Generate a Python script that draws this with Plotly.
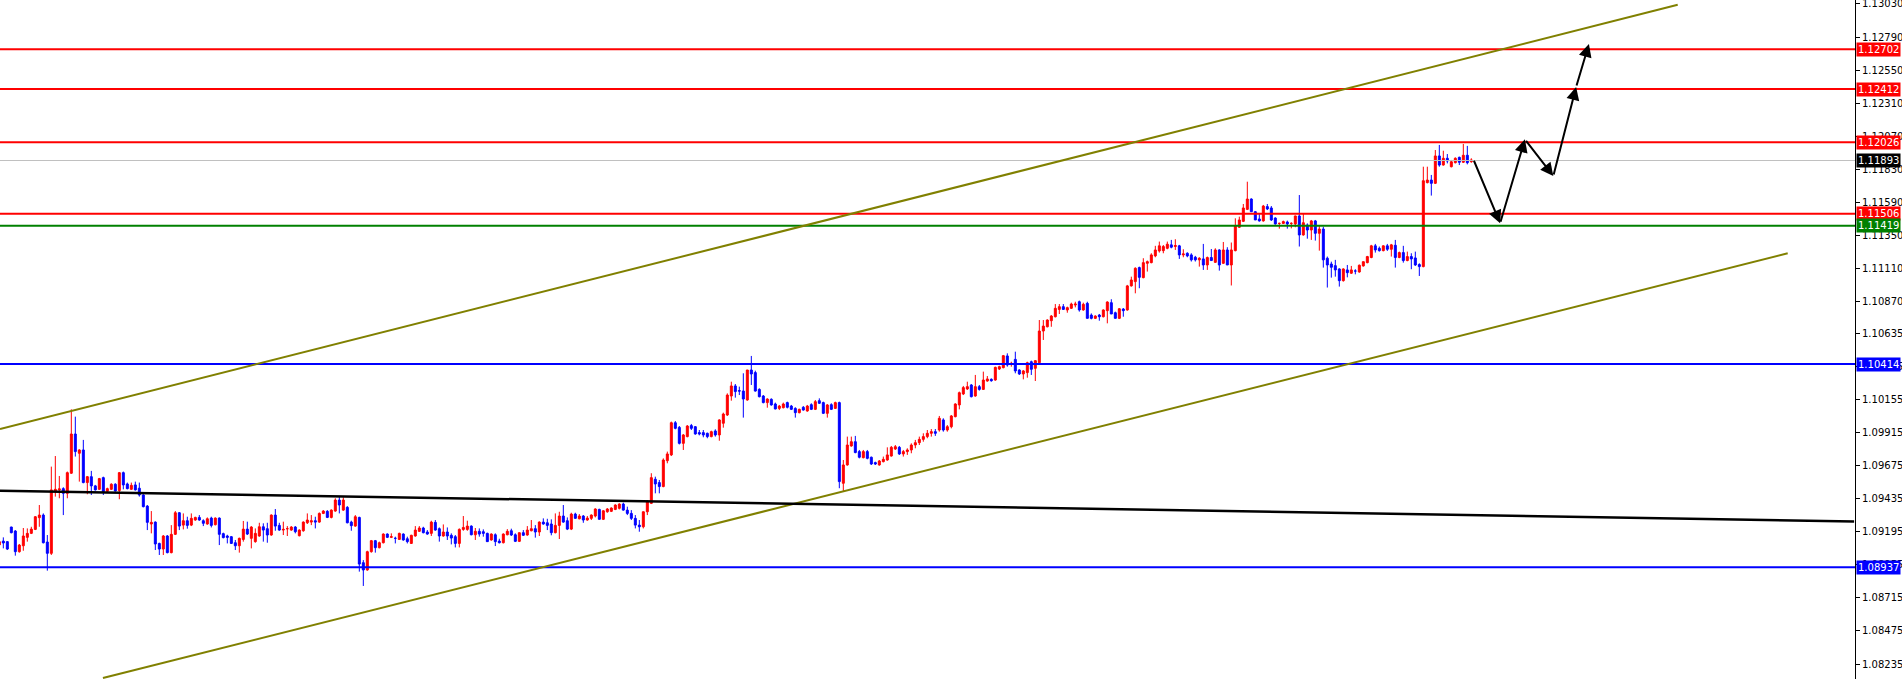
import plotly.graph_objects as go

# ---------------- candle data ----------------
opens = [
 1.09100, 1.09128, 1.09124, 1.09230, 1.09201, 1.09051, 1.09094, 1.09155, 1.09184, 1.09213,
 1.09298, 1.09317, 1.09121, 1.09039, 1.09490, 1.09500, 1.09509, 1.09475, 1.09621, 1.09906,
 1.09766, 1.09790, 1.09553, 1.09596, 1.09529, 1.09504, 1.09589, 1.09490, 1.09504, 1.09541,
 1.09495, 1.09625, 1.09543, 1.09504, 1.09536, 1.09512, 1.09463, 1.09382, 1.09252, 1.09266,
 1.09111, 1.09070, 1.09165, 1.09044, 1.09177, 1.09334, 1.09244, 1.09276, 1.09244, 1.09281,
 1.09300, 1.09276, 1.09252, 1.09295, 1.09247, 1.09295, 1.09182, 1.09165, 1.09160, 1.09116,
 1.09094, 1.09140, 1.09215, 1.09148, 1.09124, 1.09165, 1.09232, 1.09218, 1.09172, 1.09317,
 1.09242, 1.09208, 1.09218, 1.09208, 1.09230, 1.09167, 1.09203, 1.09261, 1.09266, 1.09276,
 1.09266, 1.09329, 1.09344, 1.09300, 1.09346, 1.09426, 1.09353, 1.09373, 1.09266, 1.09237,
 1.09300, 1.08971, 1.08918, 1.09051, 1.09131, 1.09080, 1.09116, 1.09179, 1.09155, 1.09148,
 1.09140, 1.09179, 1.09145, 1.09111, 1.09165, 1.09199, 1.09223, 1.09194, 1.09184, 1.09264,
 1.09218, 1.09165, 1.09194, 1.09170, 1.09160, 1.09111, 1.09213, 1.09213, 1.09237, 1.09174,
 1.09199, 1.09196, 1.09184, 1.09136, 1.09174, 1.09128, 1.09116, 1.09174, 1.09203, 1.09174,
 1.09126, 1.09189, 1.09172, 1.09203, 1.09218, 1.09194, 1.09266, 1.09261, 1.09252, 1.09189,
 1.09242, 1.09310, 1.09276, 1.09215, 1.09324, 1.09290, 1.09310, 1.09281, 1.09293, 1.09310,
 1.09358, 1.09286, 1.09341, 1.09344, 1.09358, 1.09366, 1.09397, 1.09353, 1.09329, 1.09293,
 1.09244, 1.09232, 1.09341, 1.09402, 1.09577, 1.09553, 1.09524, 1.09712, 1.09754, 1.09988,
 1.09954, 1.09838, 1.09887, 1.09967, 1.09959, 1.09916, 1.09916, 1.09911, 1.09887, 1.09928,
 1.09899, 1.09984, 1.10044, 1.10182, 1.10255, 1.10221, 1.10218, 1.10153, 1.10371, 1.10352,
 1.10230, 1.10182, 1.10134, 1.10158, 1.10124, 1.10092, 1.10097, 1.10134, 1.10109, 1.10092,
 1.10061, 1.10100, 1.10073, 1.10119, 1.10085, 1.10148, 1.10134, 1.10056, 1.10119, 1.10092,
 1.10134, 1.09548, 1.09681, 1.09819, 1.09850, 1.09778, 1.09734, 1.09778, 1.09737, 1.09698,
 1.09681, 1.09705, 1.09717, 1.09746, 1.09797, 1.09809, 1.09761, 1.09778, 1.09790, 1.09826,
 1.09843, 1.09867, 1.09887, 1.09911, 1.09923, 1.09935, 1.10008, 1.09935, 1.09959, 1.10032,
 1.10117, 1.10197, 1.10233, 1.10262, 1.10182, 1.10250, 1.10230, 1.10291, 1.10303, 1.10298,
 1.10378, 1.10388, 1.10473, 1.10414, 1.10448, 1.10371, 1.10342, 1.10352, 1.10431, 1.10383,
 1.10424, 1.10654, 1.10685, 1.10729, 1.10758, 1.10811, 1.10831, 1.10807, 1.10819, 1.10843,
 1.10867, 1.10807, 1.10855, 1.10770, 1.10746, 1.10770, 1.10758, 1.10802, 1.10860, 1.10787,
 1.10746, 1.10814, 1.10807, 1.10982, 1.11013, 1.11115, 1.11042, 1.11146, 1.11151, 1.11200,
 1.11236, 1.11238, 1.11255, 1.11280, 1.11268, 1.11273, 1.11207, 1.11219, 1.11207, 1.11190,
 1.11171, 1.11178, 1.11134, 1.11188, 1.11153, 1.11243, 1.11146, 1.11243, 1.11134, 1.11238,
 1.11408, 1.11451, 1.11538, 1.11613, 1.11521, 1.11468, 1.11454, 1.11558, 1.11548, 1.11475,
 1.11436, 1.11436, 1.11446, 1.11436, 1.11432, 1.11490, 1.11352, 1.11424, 1.11388, 1.11454,
 1.11364, 1.11395, 1.11183, 1.11141, 1.11129, 1.11105, 1.11020, 1.11098, 1.11074, 1.11090,
 1.11083, 1.11127, 1.11151, 1.11188, 1.11273, 1.11255, 1.11238, 1.11273, 1.11248, 1.11277,
 1.11188, 1.11224, 1.11166, 1.11195, 1.11185, 1.11137, 1.11122, 1.11732, 1.11751, 1.11727,
 1.11926, 1.11860, 1.11909, 1.11848, 1.11877, 1.11916, 1.11880, 1.11931, 1.11884,
]
highs = [
 1.09136, 1.09155, 1.09128, 1.09232, 1.09208, 1.09107, 1.09223, 1.09220, 1.09232, 1.09310,
 1.09390, 1.09329, 1.09172, 1.09669, 1.09746, 1.09601, 1.09519, 1.09633, 1.10085, 1.10032,
 1.09795, 1.09863, 1.09601, 1.09638, 1.09536, 1.09587, 1.09596, 1.09516, 1.09548, 1.09548,
 1.09630, 1.09633, 1.09553, 1.09553, 1.09560, 1.09553, 1.09468, 1.09390, 1.09346, 1.09271,
 1.09116, 1.09172, 1.09172, 1.09244, 1.09346, 1.09339, 1.09329, 1.09305, 1.09329, 1.09305,
 1.09317, 1.09286, 1.09300, 1.09305, 1.09300, 1.09300, 1.09189, 1.09174, 1.09165, 1.09136,
 1.09153, 1.09274, 1.09269, 1.09237, 1.09220, 1.09261, 1.09257, 1.09261, 1.09322, 1.09361,
 1.09261, 1.09269, 1.09237, 1.09237, 1.09237, 1.09213, 1.09271, 1.09329, 1.09317, 1.09305,
 1.09336, 1.09353, 1.09353, 1.09358, 1.09439, 1.09451, 1.09446, 1.09382, 1.09276, 1.09317,
 1.09305, 1.08990, 1.09058, 1.09136, 1.09136, 1.09124, 1.09184, 1.09184, 1.09184, 1.09160,
 1.09189, 1.09184, 1.09160, 1.09174, 1.09237, 1.09237, 1.09232, 1.09208, 1.09276, 1.09281,
 1.09227, 1.09249, 1.09227, 1.09184, 1.09172, 1.09220, 1.09310, 1.09276, 1.09242, 1.09223,
 1.09220, 1.09213, 1.09189, 1.09184, 1.09184, 1.09145, 1.09184, 1.09215, 1.09218, 1.09184,
 1.09189, 1.09208, 1.09237, 1.09281, 1.09244, 1.09271, 1.09293, 1.09290, 1.09286, 1.09329,
 1.09341, 1.09390, 1.09300, 1.09334, 1.09334, 1.09324, 1.09317, 1.09310, 1.09322, 1.09366,
 1.09363, 1.09353, 1.09368, 1.09373, 1.09395, 1.09402, 1.09407, 1.09378, 1.09353, 1.09317,
 1.09281, 1.09317, 1.09426, 1.09621, 1.09596, 1.09572, 1.09729, 1.09778, 1.09996, 1.10000,
 1.09964, 1.09906, 1.09971, 1.09979, 1.09964, 1.09935, 1.09935, 1.09916, 1.09930, 1.09940,
 1.10013, 1.10061, 1.10201, 1.10286, 1.10269, 1.10250, 1.10347, 1.10371, 1.10473, 1.10366,
 1.10238, 1.10189, 1.10165, 1.10165, 1.10134, 1.10117, 1.10134, 1.10141, 1.10117, 1.10100,
 1.10090, 1.10109, 1.10117, 1.10129, 1.10153, 1.10165, 1.10141, 1.10124, 1.10129, 1.10141,
 1.10141, 1.09717, 1.09887, 1.09887, 1.09892, 1.09790, 1.09790, 1.09790, 1.09742, 1.09705,
 1.09717, 1.09742, 1.09809, 1.09819, 1.09826, 1.09819, 1.09790, 1.09802, 1.09838, 1.09863,
 1.09887, 1.09911, 1.09935, 1.09942, 1.09942, 1.10037, 1.10020, 1.09971, 1.10044, 1.10129,
 1.10214, 1.10255, 1.10286, 1.10269, 1.10335, 1.10262, 1.10359, 1.10327, 1.10310, 1.10395,
 1.10402, 1.10480, 1.10492, 1.10431, 1.10504, 1.10376, 1.10371, 1.10431, 1.10439, 1.10443,
 1.10734, 1.10734, 1.10739, 1.10770, 1.10850, 1.10850, 1.10850, 1.10831, 1.10860, 1.10867,
 1.10875, 1.10860, 1.10867, 1.10782, 1.10768, 1.10778, 1.10811, 1.10870, 1.10885, 1.10795,
 1.10821, 1.10821, 1.10989, 1.11049, 1.11117, 1.11122, 1.11183, 1.11166, 1.11219, 1.11273,
 1.11304, 1.11279, 1.11304, 1.11316, 1.11321, 1.11280, 1.11248, 1.11226, 1.11219, 1.11200,
 1.11190, 1.11287, 1.11195, 1.11250, 1.11255, 1.11248, 1.11301, 1.11263, 1.11297, 1.11473,
 1.11485, 1.11577, 1.11739, 1.11618, 1.11526, 1.11504, 1.11570, 1.11577, 1.11562, 1.11480,
 1.11441, 1.11456, 1.11456, 1.11444, 1.11492, 1.11642, 1.11509, 1.11436, 1.11461, 1.11461,
 1.11417, 1.11412, 1.11195, 1.11158, 1.11171, 1.11110, 1.11110, 1.11134, 1.11127, 1.11103,
 1.11137, 1.11158, 1.11200, 1.11280, 1.11287, 1.11268, 1.11277, 1.11287, 1.11287, 1.11316,
 1.11231, 1.11273, 1.11231, 1.11219, 1.11231, 1.11146, 1.11848, 1.11848, 1.11788, 1.11969,
 1.12006, 1.11964, 1.11940, 1.11897, 1.11916, 1.11921, 1.12013, 1.11999, 1.11909,
]
lows = [
 1.09087, 1.09075, 1.09063, 1.09184, 1.09022, 1.09044, 1.09058, 1.09124, 1.09179, 1.09208,
 1.09232, 1.09111, 1.08913, 1.09027, 1.09451, 1.09439, 1.09317, 1.09439, 1.09616, 1.09742,
 1.09560, 1.09548, 1.09468, 1.09463, 1.09495, 1.09500, 1.09463, 1.09485, 1.09500, 1.09487,
 1.09432, 1.09504, 1.09504, 1.09500, 1.09495, 1.09451, 1.09373, 1.09208, 1.09184, 1.09063,
 1.09027, 1.09027, 1.09039, 1.09039, 1.09172, 1.09208, 1.09213, 1.09218, 1.09237, 1.09276,
 1.09276, 1.09237, 1.09247, 1.09227, 1.09242, 1.09099, 1.09148, 1.09111, 1.09107, 1.09063,
 1.09044, 1.09124, 1.09172, 1.09075, 1.09116, 1.09160, 1.09124, 1.09116, 1.09167, 1.09203,
 1.09203, 1.09172, 1.09165, 1.09203, 1.09184, 1.09162, 1.09196, 1.09252, 1.09244, 1.09220,
 1.09261, 1.09324, 1.09295, 1.09293, 1.09341, 1.09329, 1.09348, 1.09257, 1.09203, 1.09232,
 1.08906, 1.08802, 1.08913, 1.09044, 1.09044, 1.09075, 1.09111, 1.09150, 1.09150, 1.09111,
 1.09136, 1.09131, 1.09111, 1.09107, 1.09160, 1.09194, 1.09184, 1.09174, 1.09165, 1.09203,
 1.09124, 1.09160, 1.09136, 1.09104, 1.09082, 1.09082, 1.09203, 1.09203, 1.09170, 1.09136,
 1.09160, 1.09160, 1.09124, 1.09131, 1.09092, 1.09111, 1.09111, 1.09170, 1.09165, 1.09121,
 1.09121, 1.09165, 1.09167, 1.09199, 1.09153, 1.09165, 1.09247, 1.09208, 1.09170, 1.09184,
 1.09143, 1.09261, 1.09208, 1.09208, 1.09290, 1.09286, 1.09261, 1.09276, 1.09281, 1.09300,
 1.09286, 1.09281, 1.09334, 1.09339, 1.09353, 1.09358, 1.09349, 1.09317, 1.09281, 1.09220,
 1.09196, 1.09220, 1.09317, 1.09397, 1.09475, 1.09475, 1.09519, 1.09693, 1.09746, 1.09940,
 1.09830, 1.09790, 1.09882, 1.09935, 1.09901, 1.09896, 1.09882, 1.09875, 1.09882, 1.09887,
 1.09857, 1.09952, 1.10037, 1.10148, 1.10170, 1.10189, 1.10025, 1.10148, 1.10262, 1.10214,
 1.10172, 1.10129, 1.10097, 1.10112, 1.10085, 1.10080, 1.10092, 1.10092, 1.10080, 1.10025,
 1.10056, 1.10076, 1.10068, 1.10080, 1.10080, 1.10124, 1.10051, 1.10025, 1.10080, 1.10088,
 1.09512, 1.09487, 1.09676, 1.09814, 1.09766, 1.09729, 1.09729, 1.09722, 1.09681, 1.09681,
 1.09676, 1.09700, 1.09712, 1.09742, 1.09790, 1.09754, 1.09742, 1.09754, 1.09766, 1.09802,
 1.09826, 1.09850, 1.09875, 1.09887, 1.09892, 1.09923, 1.09923, 1.09923, 1.09947, 1.10027,
 1.10085, 1.10189, 1.10226, 1.10172, 1.10177, 1.10221, 1.10226, 1.10286, 1.10286, 1.10293,
 1.10371, 1.10383, 1.10395, 1.10395, 1.10347, 1.10335, 1.10303, 1.10315, 1.10335, 1.10291,
 1.10419, 1.10589, 1.10681, 1.10685, 1.10753, 1.10778, 1.10807, 1.10787, 1.10814, 1.10826,
 1.10795, 1.10802, 1.10746, 1.10739, 1.10741, 1.10729, 1.10753, 1.10710, 1.10778, 1.10746,
 1.10741, 1.10758, 1.10802, 1.10977, 1.10928, 1.10965, 1.11037, 1.11086, 1.11146, 1.11190,
 1.11224, 1.11219, 1.11248, 1.11255, 1.11243, 1.11178, 1.11190, 1.11190, 1.11159, 1.11159,
 1.11122, 1.11098, 1.11098, 1.11166, 1.11149, 1.11093, 1.11141, 1.11134, 1.10985, 1.11233,
 1.11403, 1.11446, 1.11533, 1.11521, 1.11461, 1.11449, 1.11449, 1.11533, 1.11454, 1.11427,
 1.11398, 1.11432, 1.11398, 1.11400, 1.11408, 1.11268, 1.11347, 1.11325, 1.11316, 1.11311,
 1.11238, 1.11115, 1.10970, 1.11042, 1.11049, 1.10977, 1.11013, 1.11044, 1.11069, 1.11066,
 1.11078, 1.11122, 1.11146, 1.11183, 1.11224, 1.11231, 1.11233, 1.11236, 1.11195, 1.11115,
 1.11183, 1.11151, 1.11161, 1.11103, 1.11127, 1.11054, 1.11117, 1.11727, 1.11638, 1.11722,
 1.11848, 1.11856, 1.11872, 1.11843, 1.11872, 1.11860, 1.11875, 1.11865, 1.11877,
]
closes = [
 1.09124, 1.09114, 1.09070, 1.09189, 1.09051, 1.09099, 1.09165, 1.09184, 1.09215, 1.09305,
 1.09317, 1.09116, 1.09039, 1.09500, 1.09504, 1.09507, 1.09475, 1.09625, 1.09906, 1.09778,
 1.09790, 1.09553, 1.09596, 1.09529, 1.09500, 1.09582, 1.09487, 1.09509, 1.09541, 1.09492,
 1.09625, 1.09536, 1.09509, 1.09533, 1.09500, 1.09463, 1.09378, 1.09264, 1.09264, 1.09107,
 1.09070, 1.09165, 1.09044, 1.09177, 1.09334, 1.09237, 1.09276, 1.09242, 1.09293, 1.09300,
 1.09281, 1.09257, 1.09290, 1.09242, 1.09295, 1.09177, 1.09153, 1.09155, 1.09111, 1.09094,
 1.09148, 1.09215, 1.09179, 1.09230, 1.09184, 1.09232, 1.09208, 1.09172, 1.09317, 1.09237,
 1.09208, 1.09213, 1.09218, 1.09230, 1.09196, 1.09208, 1.09266, 1.09281, 1.09276, 1.09266,
 1.09329, 1.09346, 1.09300, 1.09353, 1.09426, 1.09390, 1.09426, 1.09261, 1.09240, 1.09305,
 1.08961, 1.08918, 1.09051, 1.09131, 1.09080, 1.09116, 1.09179, 1.09155, 1.09160, 1.09148,
 1.09184, 1.09136, 1.09124, 1.09170, 1.09208, 1.09223, 1.09189, 1.09179, 1.09266, 1.09208,
 1.09165, 1.09194, 1.09165, 1.09150, 1.09111, 1.09213, 1.09227, 1.09237, 1.09174, 1.09199,
 1.09179, 1.09184, 1.09124, 1.09179, 1.09124, 1.09116, 1.09179, 1.09199, 1.09172, 1.09126,
 1.09189, 1.09170, 1.09208, 1.09218, 1.09194, 1.09266, 1.09252, 1.09242, 1.09189, 1.09242,
 1.09310, 1.09266, 1.09215, 1.09324, 1.09293, 1.09310, 1.09281, 1.09295, 1.09317, 1.09361,
 1.09286, 1.09348, 1.09361, 1.09368, 1.09390, 1.09397, 1.09353, 1.09329, 1.09293, 1.09244,
 1.09232, 1.09341, 1.09414, 1.09589, 1.09543, 1.09524, 1.09717, 1.09761, 1.09988, 1.09947,
 1.09838, 1.09899, 1.09964, 1.09947, 1.09906, 1.09906, 1.09899, 1.09887, 1.09923, 1.09899,
 1.10008, 1.10051, 1.10189, 1.10255, 1.10214, 1.10218, 1.10160, 1.10371, 1.10342, 1.10218,
 1.10177, 1.10134, 1.10160, 1.10117, 1.10088, 1.10109, 1.10124, 1.10100, 1.10085, 1.10061,
 1.10085, 1.10080, 1.10109, 1.10085, 1.10141, 1.10129, 1.10056, 1.10117, 1.10085, 1.10134,
 1.09560, 1.09681, 1.09826, 1.09850, 1.09771, 1.09737, 1.09778, 1.09729, 1.09688, 1.09688,
 1.09710, 1.09722, 1.09754, 1.09809, 1.09814, 1.09761, 1.09778, 1.09790, 1.09826, 1.09843,
 1.09867, 1.09887, 1.09911, 1.09923, 1.09911, 1.10020, 1.09935, 1.09959, 1.10037, 1.10124,
 1.10206, 1.10243, 1.10250, 1.10177, 1.10250, 1.10230, 1.10298, 1.10306, 1.10293, 1.10390,
 1.10395, 1.10475, 1.10407, 1.10419, 1.10364, 1.10342, 1.10364, 1.10424, 1.10376, 1.10439,
 1.10654, 1.10690, 1.10734, 1.10763, 1.10819, 1.10831, 1.10811, 1.10824, 1.10850, 1.10850,
 1.10807, 1.10848, 1.10746, 1.10746, 1.10763, 1.10758, 1.10807, 1.10865, 1.10778, 1.10746,
 1.10816, 1.10802, 1.10982, 1.11025, 1.11110, 1.11044, 1.11151, 1.11158, 1.11207, 1.11243,
 1.11273, 1.11268, 1.11285, 1.11263, 1.11275, 1.11207, 1.11214, 1.11200, 1.11171, 1.11171,
 1.11183, 1.11134, 1.11188, 1.11166, 1.11243, 1.11134, 1.11243, 1.11134, 1.11243, 1.11417,
 1.11461, 1.11548, 1.11613, 1.11521, 1.11461, 1.11454, 1.11562, 1.11541, 1.11461, 1.11432,
 1.11436, 1.11449, 1.11432, 1.11436, 1.11490, 1.11352, 1.11441, 1.11388, 1.11454, 1.11364,
 1.11395, 1.11171, 1.11134, 1.11117, 1.11098, 1.11020, 1.11105, 1.11078, 1.11098, 1.11090,
 1.11132, 1.11158, 1.11195, 1.11273, 1.11243, 1.11238, 1.11273, 1.11248, 1.11280, 1.11188,
 1.11224, 1.11166, 1.11195, 1.11178, 1.11134, 1.11122, 1.11746, 1.11751, 1.11727, 1.11926,
 1.11860, 1.11909, 1.11889, 1.11884, 1.11909, 1.11880, 1.11931, 1.11877, 1.11897,
]
bars = list(range(len(closes)))

# ---------------- horizontal levels ----------------
level_prices = [1.12702, 1.12412, 1.12026, 1.11506, 1.11419, 1.10414, 1.08937]
level_colors = ["#FF0000", "#FF0000", "#FF0000", "#FF0000", "#008000", "#0000FF", "#0000FF"]
current_price = 1.11893

# ---------------- trend lines (bar index, price) ----------------
upper_channel_x = [0.17, 419.6]
upper_channel_y = [1.09942, 1.13024]
lower_channel_x = [25.9, 447.1]
lower_channel_y = [1.08133, 1.11219]
black_line_x = [0.17, 463.7]
black_line_y = [1.09494, 1.09271]

# ---------------- projected path arrows ----------------
arrow_x = [368.5, 375.2, 381.4, 388.5, 394.2, 397.4]
arrow_y = [1.11902, 1.11437, 1.12047, 1.11780, 1.12427, 1.12739]

# ---------------- price axis ----------------
tick_vals = [1.13030, 1.12790, 1.12550, 1.12310, 1.12070, 1.11830, 1.11590, 1.11350,
             1.11110, 1.10870, 1.10635, 1.10395, 1.10155, 1.09915, 1.09675, 1.09435,
             1.09195, 1.08955, 1.08715, 1.08475, 1.08235]
tick_text = [f"{v:.5f}" for v in tick_vals]
y_range = [1.08126, 1.13059]
x_range = [0.17, 463.92]

fig = go.Figure()
fig.add_trace(go.Candlestick(
    x=bars, open=opens, high=highs, low=lows, close=closes,
    increasing=dict(line=dict(color="#FF0000", width=1), fillcolor="#FF0000"),
    decreasing=dict(line=dict(color="#0000FF", width=1), fillcolor="#0000FF"),
    whiskerwidth=0, hoverinfo="skip", showlegend=False,
))

shapes = []
shapes.append(dict(type="line", xref="paper", yref="y", x0=0, x1=1,
                   y0=current_price, y1=current_price,
                   line=dict(color="#C0C0C0", width=1)))
for p, c in zip(level_prices, level_colors):
    shapes.append(dict(type="line", xref="paper", yref="y", x0=0, x1=1, y0=p, y1=p,
                       line=dict(color=c, width=2)))
shapes.append(dict(type="line", xref="x", yref="y",
                   x0=upper_channel_x[0], x1=upper_channel_x[1],
                   y0=upper_channel_y[0], y1=upper_channel_y[1],
                   line=dict(color="#808000", width=2)))
shapes.append(dict(type="line", xref="x", yref="y",
                   x0=lower_channel_x[0], x1=lower_channel_x[1],
                   y0=lower_channel_y[0], y1=lower_channel_y[1],
                   line=dict(color="#808000", width=2)))
shapes.append(dict(type="line", xref="x", yref="y",
                   x0=black_line_x[0], x1=black_line_x[1],
                   y0=black_line_y[0], y1=black_line_y[1],
                   line=dict(color="#000000", width=2.5)))

annotations = []
for k in range(len(arrow_x) - 1):
    annotations.append(dict(
        x=arrow_x[k + 1], y=arrow_y[k + 1], ax=arrow_x[k], ay=arrow_y[k],
        xref="x", yref="y", axref="x", ayref="y", text="", showarrow=True,
        arrowhead=2, arrowsize=1.3, arrowwidth=2, arrowcolor="#000000"))

label_items = [(current_price, "#000000")] + list(zip(level_prices, level_colors))
for p, c in label_items:
    annotations.append(dict(
        xref="paper", yref="y", x=1, y=p, xanchor="left", yanchor="middle",
        xshift=1, text=f"{p:.5f}", showarrow=False, bgcolor=c, borderpad=1,
        font=dict(family="DejaVu Sans", size=10, color="#FFFFFF")))

fig.update_layout(
    width=1902, height=679,
    margin=dict(l=0, r=47, t=0, b=0, autoexpand=False),
    paper_bgcolor="#FFFFFF", plot_bgcolor="#FFFFFF",
    shapes=shapes, annotations=annotations, showlegend=False,
    xaxis=dict(range=x_range, visible=False, rangeslider=dict(visible=False),
               fixedrange=True),
    yaxis=dict(range=y_range, side="right", tickvals=tick_vals, ticktext=tick_text,
               ticks="outside", ticklen=4, tickcolor="#000000", tickwidth=1,
               showline=True, linecolor="#000000", linewidth=1,
               showgrid=False, zeroline=False, automargin=False,
               ticklabeloverflow="allow",
               tickfont=dict(family="DejaVu Sans", size=10, color="#000000")),
)

fig.write_html(
    "out.html",
    config={"displayModeBar": False},
    post_script="document.body.style.margin='0';document.body.style.overflow='hidden';",
)
